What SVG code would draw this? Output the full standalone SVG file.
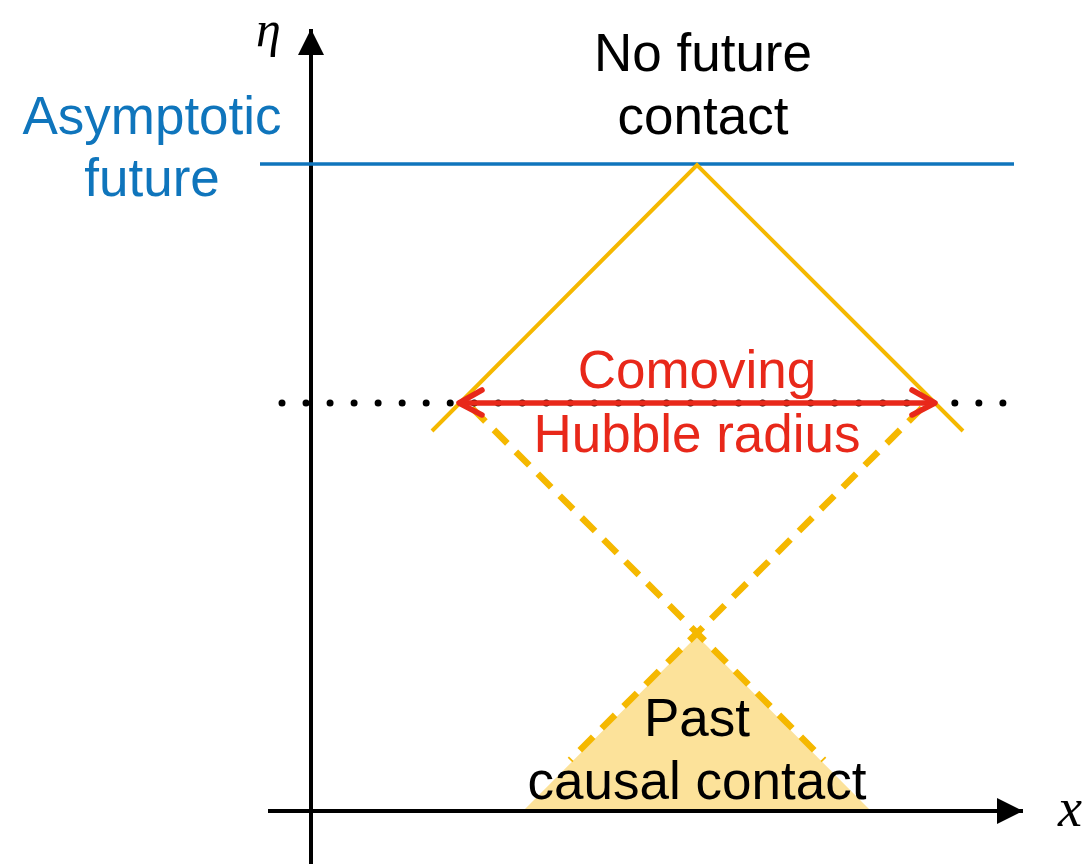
<svg xmlns="http://www.w3.org/2000/svg" width="1091" height="864" viewBox="0 0 1091 864">
<style>
.t{font-family:"Liberation Sans",Arial,sans-serif;font-size:53px;text-anchor:middle}
.m{font-family:"Liberation Serif","Times New Roman",serif;font-style:italic;font-size:54px}
.or{stroke:#F5B800;fill:none}
</style>
<defs>
<marker id="ah" markerUnits="userSpaceOnUse" markerWidth="30" markerHeight="30" refX="26" refY="13" orient="auto">
<path d="M0,0 L26,13 L0,26 Z" fill="#000"/>
</marker>
</defs>
<rect width="1091" height="864" fill="#fff"/>
<g id="past-cone">
<polygon points="697,636 869,809 525,809" fill="#FCE29A"/>
</g>
<g id="connectors">
<line x1="311" y1="864" x2="311" y2="29" stroke="#000" stroke-width="4" marker-end="url(#ah)"/>
<line x1="268" y1="811" x2="1023" y2="811" stroke="#000" stroke-width="4" marker-end="url(#ah)"/>
<line x1="260" y1="164" x2="1014" y2="164" stroke="#0F75BC" stroke-width="3.5"/>
<polyline class="or" points="432,431 697,165 963,431" stroke-width="4"/>
<line class="or" x1="922" y1="408" x2="570" y2="760" stroke-width="6.5" stroke-dasharray="19 12"/>
<line class="or" x1="472" y1="408" x2="824" y2="760" stroke-width="6.5" stroke-dasharray="19 12"/>
<line x1="282" y1="403" x2="1006" y2="403" stroke="#000" stroke-width="7" stroke-linecap="round" stroke-dasharray="0 24.03"/>
<g stroke="#E8281A" stroke-width="5.5" fill="none" stroke-linecap="round" stroke-linejoin="round">
<line x1="460" y1="403" x2="934" y2="403"/>
<polyline points="482,390 459,403 482,415"/>
<polyline points="912,390 935,403 912,415"/>
</g>
</g>
<g id="labels">
<text class="m" x="256" y="46" style="font-size:50px">η</text>
<text class="m" x="1058" y="826">x</text>
<g fill="#0F75BC">
<text class="t" x="152" y="134">Asymptotic</text>
<text class="t" x="152" y="196">future</text>
</g>
<text class="t" x="703" y="71">No future</text>
<text class="t" x="703" y="134">contact</text>
<g fill="#E8281A">
<text class="t" x="697" y="388">Comoving</text>
<text class="t" x="697" y="452">Hubble radius</text>
</g>
<text class="t" x="697" y="736">Past</text>
<text class="t" x="697" y="799">causal contact</text>
</g>
</svg>
